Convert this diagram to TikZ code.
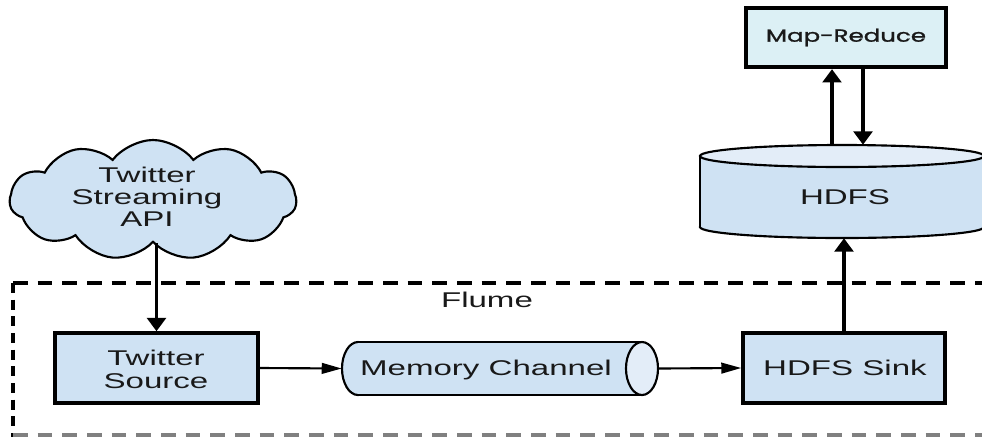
\documentclass[tikz,border=0pt]{standalone}
\usepackage{fontspec}
\setmainfont{Liberation Sans}
\newfontfamily\mrfont[FakeBold=1.2]{Poppins}
\usepackage{graphicx}
\usetikzlibrary{arrows.meta,shapes.symbols}
\definecolor{boxblue}{HTML}{CFE2F3}
\definecolor{endblue}{HTML}{E3EDF8}
\definecolor{mrfill}{HTML}{DCF0F5}
\newcommand\sx[1]{\scalebox{1.55}[1]{#1}}
\newcommand\txtfont{\fontsize{16pt}{17.2pt}\selectfont}
\tikzset{
  bluebox/.style={draw=black, line width=2.6pt, fill=boxblue, inner sep=0pt},
  plain/.style={inner sep=0pt, font=\txtfont, text=black!90, align=center},
  varr/.style={-{Triangle[length=10pt,width=14pt]}, line width=2.6pt},
  harr/.style={-{Triangle[length=15pt,width=8pt]}, line width=1.6pt},
  cyl/.style={draw=black, line width=1.6pt},
  flumeline/.style={line width=2.3pt, dash pattern=on 11pt off 7.5pt},
  flumevline/.style={line width=2.5pt, dash pattern=on 7.5pt off 5pt},
}
\begin{document}
\begin{tikzpicture}[x=0.75pt,y=-0.75pt]
\useasboundingbox (0,0) rectangle (982,437);

% Flume dashed frame
\draw[flumeline] (13,283) -- (982,283);
\draw[flumevline] (13,283) -- (13,437);
\draw[flumeline, black!50] (13,435) -- (982,435);
\node[plain] (flume) at (487,300) {\sx{Flume}};

% Cloud
\node[cloud, cloud puffs=11, cloud puff arc=105, aspect=2.5, draw=black, line width=1.6pt,
      fill=boxblue, minimum width=215pt, minimum height=90pt, inner sep=0pt] (cloud) at (153,200) {};
\node[plain, font=\fontsize{16pt}{16.5pt}\selectfont] (cloudtext) at (147,200)
  {\sx{\begin{tabular}{@{}c@{}}Twitter\\Streaming\\API\end{tabular}}};

% Twitter Source
\node[bluebox, minimum width=152.25pt, minimum height=52.5pt] (src) at (156.5,368) {};
\node[plain] (srctext) at (156,372) {\sx{\begin{tabular}{@{}c@{}}Twitter\\Source\end{tabular}}};

% Memory Channel cylinder (horizontal)
\filldraw[cyl, fill=boxblue] (358,368.5) ellipse (12pt and 19.875pt);
\fill[boxblue] (358,342) rectangle (642,395);
\draw[cyl] (358,342) -- (642,342) (358,395) -- (642,395);
\filldraw[cyl, fill=endblue] (642,368.5) ellipse (12pt and 19.875pt);
\node[inner sep=0pt, minimum width=237pt, minimum height=39.75pt] (mem) at (500,368.5) {};
\node[plain] (memtext) at (486,370) {\sx{Memory Channel}};

% HDFS Sink
\node[bluebox, minimum width=151.5pt, minimum height=52.5pt] (sink) at (844,368) {};
\node[plain] (sinktext) at (845,368) {\sx{HDFS Sink}};

% HDFS cylinder (vertical)
\filldraw[cyl, fill=boxblue] (842,227) ellipse (106.5pt and 8.25pt);
\fill[boxblue] (700,156) rectangle (984,227);
\draw[cyl] (700,156) -- (700,227) (984,156) -- (984,227);
\filldraw[cyl, fill=endblue] (842,156) ellipse (106.5pt and 8.25pt);
\node[inner sep=0pt, minimum width=213pt, minimum height=69.75pt] (hdfs) at (842,191.5) {};
\node[plain] (hdfstext) at (845,197) {\sx{HDFS}};

% Map-Reduce
\node[draw=black, line width=3.2pt, fill=mrfill, inner sep=0pt, minimum width=150pt, minimum height=44.25pt,
      text=black!90] (mr) at (846,37.5) {\resizebox{120pt}{9.75pt}{\mrfont Map-Reduce}};

% Connectors
\draw[varr] (src.north |- cloud.south) -- (src.north);
\draw[harr] (src.east) -- (mem.west);
\draw[harr] (mem.east) -- (sink.west);
\draw[varr] (sink.north) -- (sink.north |- hdfs.south);
\draw[varr] ([xshift=-7.5pt]hdfs.north) -- ([xshift=-7.5pt]hdfs.north |- mr.south);
\draw[varr] ([xshift=15.75pt]hdfs.north |- mr.south) -- ([xshift=15.75pt]hdfs.north);
\end{tikzpicture}
\end{document}
